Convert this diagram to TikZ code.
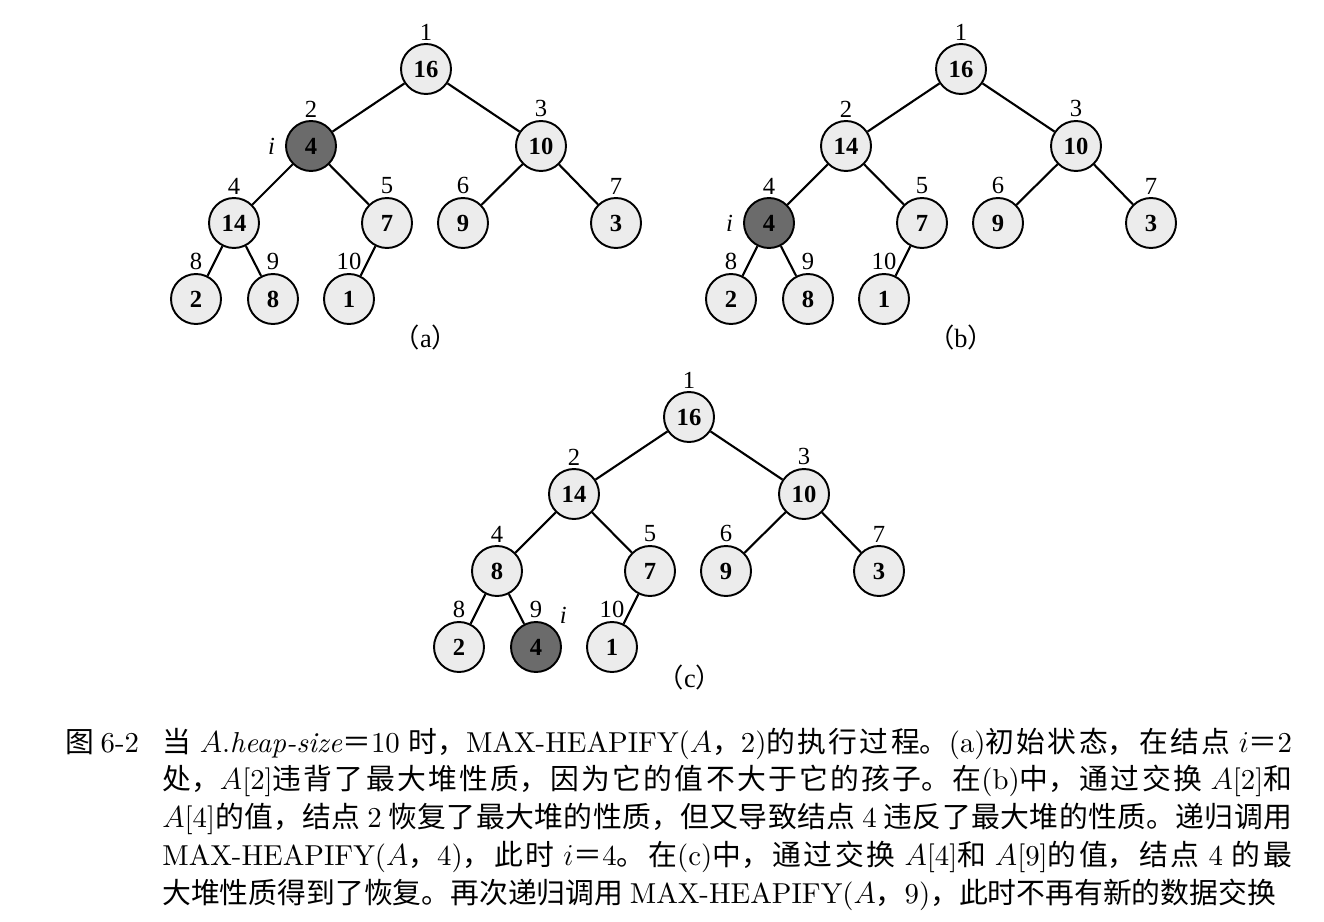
\documentclass[tikz,border=0pt]{standalone}
\usepackage{fontspec}
\newfontfamily\cjk{Noto Sans CJK SC}
\newfontfamily\treefont{Liberation Serif}
\newfontfamily\enfont{lmroman10-regular.otf}[ItalicFont=lmroman10-italic.otf]
\newcommand{\en}[1]{{\enfont #1}}
\usetikzlibrary{positioning}

\begin{document}
\begin{tikzpicture}[x=0.02cm,y=-0.02cm,
  heapnode/.style={draw,circle,line width=1.1pt,fill=gray!15,minimum size=1cm,inner sep=0pt,font=\treefont\bfseries\fontsize{14}{16}\selectfont},
  badnode/.style={heapnode,fill=black!58},
  every label/.style={font=\treefont\fontsize{14}{16}\selectfont,inner sep=1.5pt},
  label distance=0pt,
  link/.style={line width=1.2pt},
  subcap/.style={font=\treefont\fontsize{15}{17}\selectfont}]
  \useasboundingbox (0,0) rectangle (1324,922);
  % (a)
  \begin{scope}[shift={(426,69)}]
  \node[heapnode,label=above:1] (a1) at (0,0) {16};
  \node[badnode,label=above:2,label={[label distance=4pt]left:\itshape i}] (a2) at (-115,77) {4};
  \node[heapnode,label=above:3] (a3) at (115,77) {10};
  \node[heapnode,label=above:4] (a4) at (-192,154) {14};
  \node[heapnode,label=above:5] (a5) at (-39,154) {7};
  \node[heapnode,label=above:6] (a6) at (37,154) {9};
  \node[heapnode,label=above:7] (a7) at (190,154) {3};
  \node[heapnode,label=above:8] (a8) at (-230,230) {2};
  \node[heapnode,label=above:9] (a9) at (-153,230) {8};
  \node[heapnode,label=above:10] (a10) at (-77,230) {1};
  \draw[link](a1)--(a2) (a1)--(a3) (a2)--(a4) (a2)--(a5) (a3)--(a6) (a3)--(a7) (a4)--(a8) (a4)--(a9) (a5)--(a10);
  \node[subcap] (capa) at (0,268) {{\cjk （}a{\cjk ）}};
  \end{scope}
  % (b)
  \begin{scope}[shift={(961,69)}]
  \node[heapnode,label=above:1] (b1) at (0,0) {16};
  \node[heapnode,label=above:2] (b2) at (-115,77) {14};
  \node[heapnode,label=above:3] (b3) at (115,77) {10};
  \node[badnode,label=above:4,label={[label distance=4pt]left:\itshape i}] (b4) at (-192,154) {4};
  \node[heapnode,label=above:5] (b5) at (-39,154) {7};
  \node[heapnode,label=above:6] (b6) at (37,154) {9};
  \node[heapnode,label=above:7] (b7) at (190,154) {3};
  \node[heapnode,label=above:8] (b8) at (-230,230) {2};
  \node[heapnode,label=above:9] (b9) at (-153,230) {8};
  \node[heapnode,label=above:10] (b10) at (-77,230) {1};
  \draw[link](b1)--(b2) (b1)--(b3) (b2)--(b4) (b2)--(b5) (b3)--(b6) (b3)--(b7) (b4)--(b8) (b4)--(b9) (b5)--(b10);
  \node[subcap] (capb) at (0,268) {{\cjk （}b{\cjk ）}};
  \end{scope}
  % (c)
  \begin{scope}[shift={(689,417)}]
  \node[heapnode,label=above:1] (c1) at (0,0) {16};
  \node[heapnode,label=above:2] (c2) at (-115,77) {14};
  \node[heapnode,label=above:3] (c3) at (115,77) {10};
  \node[heapnode,label=above:4] (c4) at (-192,154) {8};
  \node[heapnode,label=above:5] (c5) at (-39,154) {7};
  \node[heapnode,label=above:6] (c6) at (37,154) {9};
  \node[heapnode,label=above:7] (c7) at (190,154) {3};
  \node[heapnode,label=above:8] (c8) at (-230,230) {2};
  \node[badnode,label=above:9,label={[label distance=2pt]above right:\itshape i}] (c9) at (-153,230) {4};
  \node[heapnode,label=above:10] (c10) at (-77,230) {1};
  \draw[link](c1)--(c2) (c1)--(c3) (c2)--(c4) (c2)--(c5) (c3)--(c6) (c3)--(c7) (c4)--(c8) (c4)--(c9) (c5)--(c10);
  \node[subcap] (capc) at (1,260) {{\cjk （}c{\cjk ）}};
  \end{scope}
  % caption
  \node[anchor=base west,inner sep=0pt,font=\cjk\fontsize{16.4}{21.5}\selectfont] (fignum) at (65,752) {图 \en{6-2}};
  \node[anchor=base west,inner sep=0pt,text width=22.6cm,align=justify,font=\cjk\fontsize{16.4}{21.5}\selectfont] (caption) at (162,752) {%
    \XeTeXlinebreaklocale "zh"\XeTeXlinebreakskip=0pt plus 2pt%
    当 \en{$A$.\textit{heap-size}}＝\en{10} 时，\en{MAX-HEAPIFY(}$A$，\en{2)}的执行过程。\en{(a)}初始状态，在结点 $i$＝\en{2}\linebreak
    处，\en{$A$[2]}违背了最大堆性质，因为它的值不大于它的孩子。在\en{(b)}中，通过交换 \en{$A$[2]}和\linebreak
    \en{$A$[4]}的值，结点 \en{2} 恢复了最大堆的性质，但又导致结点 \en{4} 违反了最大堆的性质。递归调用\linebreak
    \en{MAX-HEAPIFY(}$A$，\en{4)}，此时 $i$＝\en{4}。在\en{(c)}中，通过交换 \en{$A$[4]}和 \en{$A$[9]}的值，结点 \en{4} 的最\linebreak
    \mbox{大堆性质得到了恢复。再次递归调用 \en{MAX-HEAPIFY(}$A$，\en{9)}，此时不再有新的数据交换}};
\end{tikzpicture}
\end{document}
